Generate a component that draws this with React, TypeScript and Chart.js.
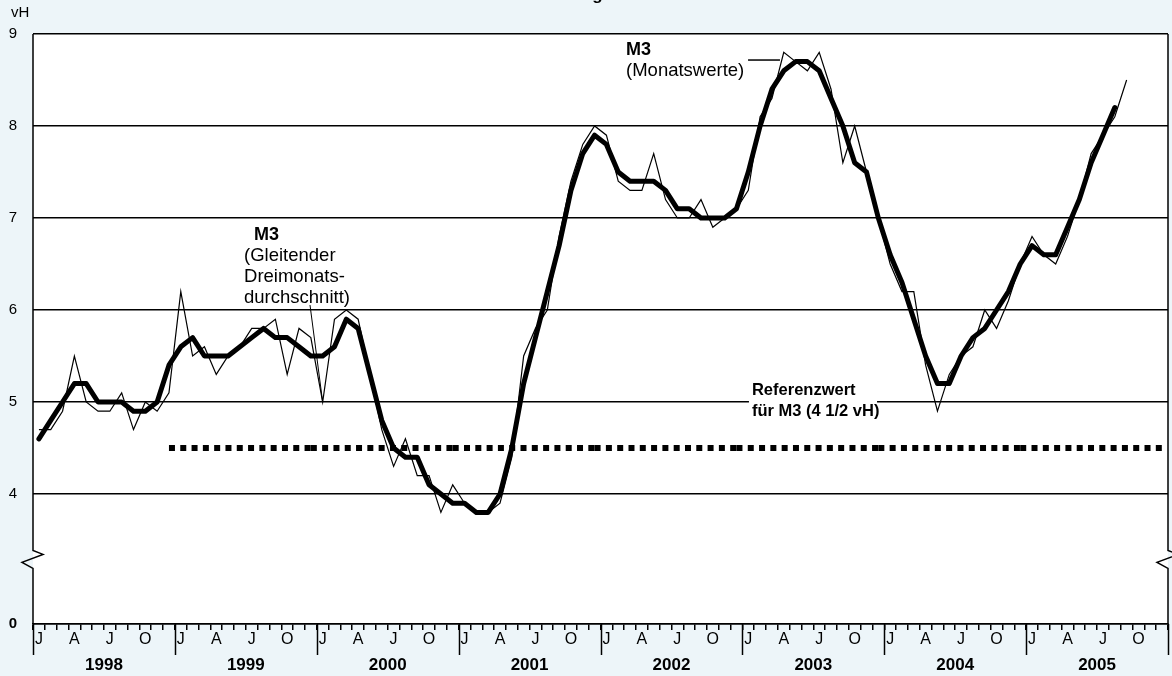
import { useEffect, useRef } from "react";
import { Chart, registerables } from "chart.js";

Chart.register(...registerables);

const FONT = "'Liberation Sans', Arial, Helvetica, sans-serif";
const BG = "#EDF5F9";

// ---- data -------------------------------------------------------------
const YEARS = ["1998", "1999", "2000", "2001", "2002", "2003", "2004", "2005"];
const MONTH_TICK_LABELS = ["J", "", "", "A", "", "", "J", "", "", "O", "", ""];

// M3, Veränderung gegenüber Vorjahresmonat in vH – Monatswerte (Jan 1998 – Sep 2005)
const M3_MONTHLY = [
  4.7, 4.7, 4.9, 5.5, 5.0, 4.9, 4.9, 5.1, 4.7, 5.0, 4.9, 5.1, // 1998
  6.2, 5.5, 5.6, 5.3, 5.5, 5.6, 5.8, 5.8, 5.9, 5.3, 5.8, 5.7, // 1999
  5.0, 5.9, 6.0, 5.9, 5.3, 4.7, 4.3, 4.6, 4.2, 4.2, 3.8, 4.1, // 2000
  3.9, 3.8, 3.8, 3.9, 4.4, 5.5, 5.8, 6.0, 6.8, 7.4, 7.8, 8.0, // 2001
  7.9, 7.4, 7.3, 7.3, 7.7, 7.2, 7.0, 7.0, 7.2, 6.9, 7.0, 7.1, // 2002
  7.3, 8.1, 8.3, 8.8, 8.7, 8.6, 8.8, 8.4, 7.6, 8.0, 7.5, 7.0, // 2003
  6.5, 6.2, 6.2, 5.4, 4.9, 5.3, 5.5, 5.6, 6.0, 5.8, 6.1, 6.5, // 2004
  6.8, 6.6, 6.5, 6.8, 7.2, 7.7, 7.9, 8.1, 8.5,                // 2005
];

// M3 – gleitender Dreimonatsdurchschnitt (Jan 1998 – Aug 2005)
const M3_AVG3 = [
  4.6, 4.8, 5.0, 5.2, 5.2, 5.0, 5.0, 5.0, 4.9, 4.9, 5.0, 5.4, // 1998
  5.6, 5.7, 5.5, 5.5, 5.5, 5.6, 5.7, 5.8, 5.7, 5.7, 5.6, 5.5, // 1999
  5.5, 5.6, 5.9, 5.8, 5.3, 4.8, 4.5, 4.4, 4.4, 4.1, 4.0, 3.9, // 2000
  3.9, 3.8, 3.8, 4.0, 4.5, 5.2, 5.7, 6.2, 6.7, 7.3, 7.7, 7.9, // 2001
  7.8, 7.5, 7.4, 7.4, 7.4, 7.3, 7.1, 7.1, 7.0, 7.0, 7.0, 7.1, // 2002
  7.5, 8.0, 8.4, 8.6, 8.7, 8.7, 8.6, 8.3, 8.0, 7.6, 7.5, 7.0, // 2003
  6.6, 6.3, 5.9, 5.5, 5.2, 5.2, 5.5, 5.7, 5.8, 6.0, 6.2, 6.5, // 2004
  6.7, 6.6, 6.6, 6.9, 7.2, 7.6, 7.9, 8.2,                     // 2005
];

// Referenzwert für M3 (vH), je Jahr 1999 – 2005
const REF_YEARS = ["1999", "2000", "2001", "2002", "2003", "2004", "2005"];
const REF_VALUES = [4.5, 4.5, 4.5, 4.5, 4.5, 4.5, 4.5];

const Y_TICKS = [4, 5, 6, 7, 8, 9];
const Y_TOP = 9;
const Y_AXIS_ZERO = 2.587; // position on the broken axis that carries the "0" label
const Y_BREAK = 3.3;       // where the axis-break sign sits

// ---- chart --------------------------------------------------------------
const MONTHS_TOTAL = YEARS.length * 12;

const monthlyPts = M3_MONTHLY.map((v, i) => ({ x: i + 0.5, y: v }));
const avgPts = M3_AVG3.map((v, i) => ({ x: i + 0.5, y: v }));
const refPts: { x: number; y: number | null }[] = [];
REF_VALUES.forEach((v, k) => {
  const yearIdx = YEARS.indexOf(REF_YEARS[k]);
  const start = yearIdx * 12 - 0.5; // from mid-December of the previous year
  if (k > 0) refPts.push({ x: start, y: null });
  refPts.push({ x: start, y: v }, { x: start + 12, y: v });
});

const decorPlugin = {
  id: "decor",
  beforeDraw(chart: any) {
    const { ctx, chartArea: a } = chart;
    ctx.save();
    ctx.fillStyle = "#ffffff";
    ctx.fillRect(a.left, a.top, a.right - a.left, a.bottom - a.top);
    ctx.restore();
  },
  afterDraw(chart: any) {
    const { ctx, chartArea: a } = chart;
    const xs = chart.scales.x;
    const ys = chart.scales.y;
    ctx.save();
    ctx.strokeStyle = "#000";
    ctx.fillStyle = "#000";
    ctx.lineWidth = 1.5;
    ctx.lineJoin = "miter";

    // broken vertical axes (left and right)
    const yb = ys.getPixelForValue(Y_BREAK);
    const broken = (x: number) => {
      ctx.beginPath();
      ctx.moveTo(x, a.top);
      ctx.lineTo(x, yb - 8);
      ctx.lineTo(x + 10, yb - 4);
      ctx.lineTo(x - 11, yb + 4);
      ctx.lineTo(x, yb + 10);
      ctx.lineTo(x, a.bottom);
      ctx.stroke();
    };
    broken(a.left);
    broken(a.right);

    // long year separators below the axis
    for (let k = 0; k <= YEARS.length; k++) {
      const x = Math.round(xs.getPixelForValue(k * 12)) + 0.5;
      ctx.beginPath();
      ctx.moveTo(x, a.bottom);
      ctx.lineTo(x, a.bottom + 31);
      ctx.stroke();
    }

    // year labels
    ctx.font = `bold 17px ${FONT}`;
    ctx.textAlign = "center";
    ctx.textBaseline = "middle";
    YEARS.forEach((y, k) => {
      ctx.fillText(y, xs.getPixelForValue(k * 12 + 6), a.bottom + 41);
    });

    // unit label
    ctx.font = `15px ${FONT}`;
    ctx.textAlign = "left";
    ctx.textBaseline = "middle";
    ctx.fillText("vH", 11, 13);

    // title (mostly above the visible area)
    ctx.font = `bold 17px ${FONT}`;
    ctx.textAlign = "center";
    ctx.textBaseline = "alphabetic";
    ctx.fillText("Geldmenge M3", 580, 0);

    const px = (v: number) => xs.getPixelForValue(v);
    const py = (v: number) => ys.getPixelForValue(v);

    // annotation: moving average
    {
      const x0 = px(17.85);
      const y0 = py(6.766);
      ctx.textAlign = "left";
      ctx.textBaseline = "alphabetic";
      ctx.font = `bold 18px ${FONT}`;
      ctx.fillText("M3", x0 + 10, y0);
      ctx.font = `18.5px ${FONT}`;
      ctx.fillText("(Gleitender", x0, y0 + 21);
      ctx.fillText("Dreimonats-", x0, y0 + 42);
      ctx.fillText("durchschnitt)", x0, y0 + 63);
      ctx.lineWidth = 1;
      ctx.beginPath();
      ctx.moveTo(px(23.43), py(6.054));
      ctx.lineTo(px(24.5), py(5.0));
      ctx.stroke();
    }

    // annotation: monthly values
    {
      const x0 = px(50.16);
      const y0 = py(8.772);
      ctx.font = `bold 18px ${FONT}`;
      ctx.fillText("M3", x0, y0);
      ctx.font = `18.5px ${FONT}`;
      ctx.fillText("(Monatswerte)", x0, y0 + 21);
      ctx.lineWidth = 1.5;
      ctx.beginPath();
      ctx.moveTo(px(60.48), py(8.717));
      ctx.lineTo(px(63.18), py(8.717));
      ctx.stroke();
    }

    // annotation: reference value
    {
      const x0 = px(60.81);
      const y0 = py(5.076);
      ctx.fillStyle = "#ffffff";
      ctx.fillRect(x0 - 3, y0 - 14, px(71.39) - x0 + 3, 40);
      ctx.fillStyle = "#000";
      ctx.font = `bold 16.5px ${FONT}`;
      ctx.fillText("Referenzwert", x0, y0);
      ctx.fillText("für M3 (4 1/2 vH)", x0, y0 + 21);
    }
    ctx.restore();
  },
};

export default function App() {
  const ref = useRef<HTMLCanvasElement>(null);

  useEffect(() => {
    document.body.style.margin = "0";
    document.body.style.background = BG;
    const canvas = ref.current;
    if (!canvas) return;

    const chart = new Chart(canvas, {
      type: "line",
      data: {
        datasets: [
          {
            label: "M3 (Gleitender Dreimonatsdurchschnitt)",
            data: avgPts,
            borderColor: "#000",
            borderWidth: 5,
            borderJoinStyle: "round",
            borderCapStyle: "round",
            pointRadius: 0,
            tension: 0,
          },
          {
            label: "M3 (Monatswerte)",
            data: monthlyPts,
            borderColor: "#000",
            borderWidth: 1.2,
            pointRadius: 0,
            tension: 0,
          },
          {
            label: "Referenzwert für M3 (4 1/2 vH)",
            data: refPts as any,
            borderColor: "#000",
            borderWidth: 6,
            borderDash: [6, 5.3],
            borderCapStyle: "butt",
            pointRadius: 0,
            spanGaps: false,
            tension: 0,
          },
        ],
      },
      options: {
        animation: false,
        responsive: true,
        maintainAspectRatio: false,
        layout: { padding: { top: 34, right: 4, left: 0, bottom: 0 } },
        plugins: {
          legend: { display: false },
          tooltip: { enabled: false },
          title: { display: false },
        },
        elements: { point: { radius: 0 } },
        scales: {
          x: {
            type: "linear",
            min: 0,
            max: MONTHS_TOTAL,
            afterBuildTicks: (s: any) => {
              s.ticks = Array.from({ length: MONTHS_TOTAL + 1 }, (_, i) => ({ value: i }));
            },
            afterFit: (s: any) => {
              s.height = 52;
            },
            grid: {
              drawOnChartArea: false,
              drawTicks: true,
              tickLength: 6,
              color: "#000",
              lineWidth: 1.5,
            },
            border: { display: true, color: "#000", width: 1.5 },
            ticks: {
              autoSkip: false,
              maxRotation: 0,
              minRotation: 0,
              padding: 0,
              labelOffset: 5.9,
              color: "#000",
              font: { family: FONT, size: 16 },
              callback: (v: any) => {
                const n = Number(v);
                if (n >= MONTHS_TOTAL) return "";
                return MONTH_TICK_LABELS[n % 12];
              },
            },
          },
          y: {
            type: "linear",
            min: Y_AXIS_ZERO,
            max: Y_TOP,
            afterBuildTicks: (s: any) => {
              s.ticks = [Y_AXIS_ZERO, ...Y_TICKS].map((v) => ({ value: v }));
            },
            afterFit: (s: any) => {
              s.width = 33;
            },
            grid: { color: "#000", lineWidth: 1.5, drawTicks: false },
            border: { display: false },
            ticks: {
              padding: 16,
              color: "#000",
              font: (c: any) => ({
                family: FONT,
                size: 15,
                weight: c.tick && c.tick.value === Y_AXIS_ZERO ? "bold" : "normal",
              }),
              callback: (v: any) => (Number(v) === Y_AXIS_ZERO ? "0" : String(v)),
            },
          },
        },
      },
      plugins: [decorPlugin],
    });

    return () => chart.destroy();
  }, []);

  return (
    <div style={{ width: 1172, height: 676, position: "relative", background: BG }}>
      <canvas ref={ref} />
    </div>
  );
}
